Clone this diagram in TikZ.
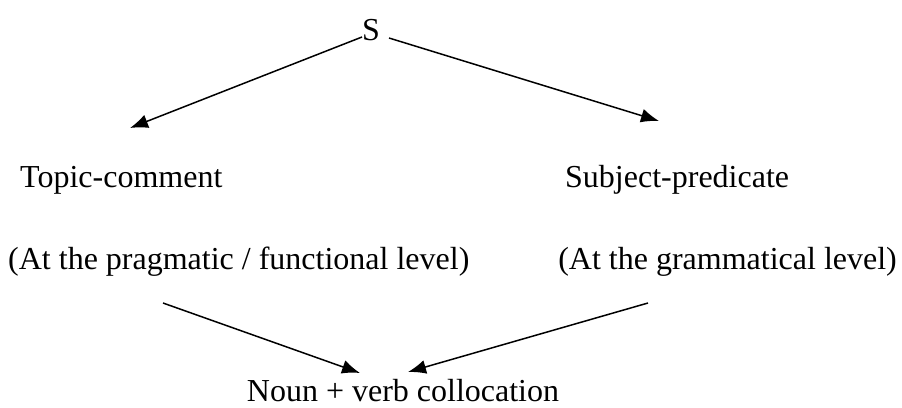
\documentclass[tikz,border=0pt]{standalone}
\usepackage{fontspec}
\setmainfont{Liberation Serif}
\usetikzlibrary{arrows.meta}
\begin{document}
\begin{tikzpicture}[x=1pt,y=-1pt,
  lbl/.style={inner sep=0pt,font=\fontsize{32}{38}\selectfont},
  link/.style={line width=1.5pt,-{Latex[length=18pt,width=14pt]}}]
\useasboundingbox (0,0) rectangle (902,407);
% labels
\node[lbl,anchor=base] (s) at (371,40) {S};
\node[lbl,anchor=base west] (topic) at (20,187) {Topic-comment};
\node[lbl,anchor=base west] (subj) at (565,187) {Subject-predicate};
\node[lbl,anchor=base west] (prag) at (8,269) {(At the pragmatic / functional level)};
\node[lbl,anchor=base east] (gram) at (897,269) {(At the grammatical level)};
\node[lbl,anchor=base] (noun) at (403,401) {Noun + verb collocation};
% free ends of the connectors
\coordinate (sl) at (362,37);
\coordinate (sr) at (389,38);
\coordinate (tl) at (130,128);
\coordinate (tr) at (659,121);
\coordinate (pl) at (163,303);
\coordinate (gr) at (648,303);
\coordinate (nl) at (360,373);
\coordinate (nr) at (408,372);
% connectors
\draw[link] (sl) -- (tl);
\draw[link] (sr) -- (tr);
\draw[link] (pl) -- (nl);
\draw[link] (gr) -- (nr);
\end{tikzpicture}
\end{document}
